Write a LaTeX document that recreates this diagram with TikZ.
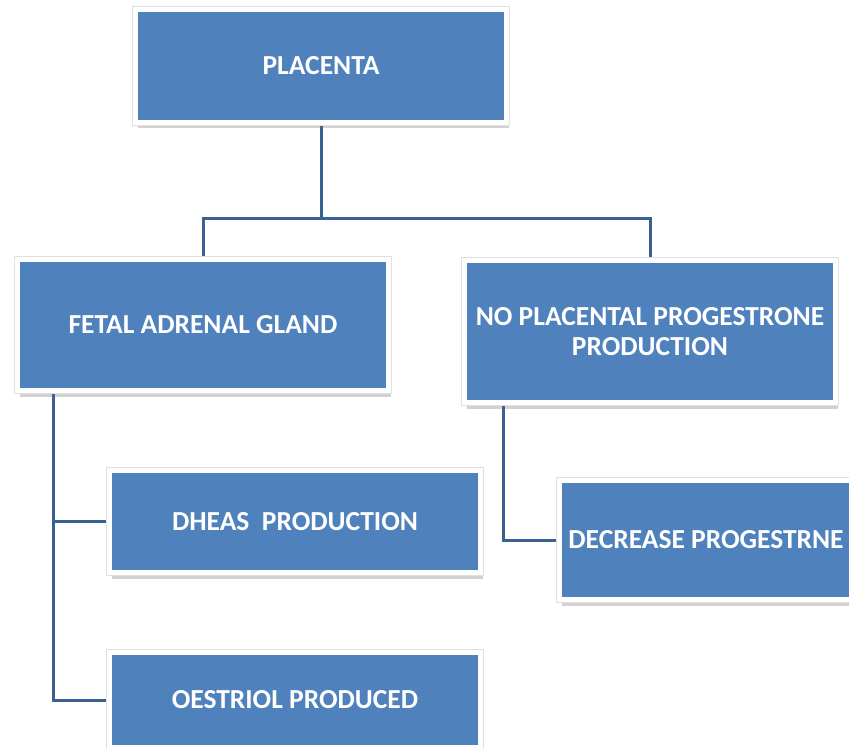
\documentclass[tikz,border=0pt]{standalone}
\usepackage{fontspec}
\setmainfont{Carlito}
\usetikzlibrary{shadows,backgrounds}
\definecolor{boxblue}{HTML}{4F81BD}
\definecolor{linkblue}{HTML}{3A6194}
\tikzset{
  card/.style={rectangle, fill=boxblue, draw=white, line width=5pt,
    inner sep=0pt, align=center, text=white,
    font=\fontsize{27.5}{30}\selectfont\bfseries,
    drop shadow={shadow xshift=2pt, shadow yshift=-6pt, opacity=0.3, fill=black!60},
    preaction={draw=black!12, line width=7pt}},
  link/.style={draw=linkblue, line width=3pt}
}
\begin{document}
\begin{tikzpicture}[x=1pt, y=-1pt]
\useasboundingbox (0,0) rectangle (849,749);
\node[card, minimum width=371pt, minimum height=113pt] (placenta) at (321,66) {PLACENTA};
\node[card, minimum width=371pt, minimum height=131pt] (fetal) at (203,325) {FETAL ADRENAL GLAND};
\node[card, minimum width=371pt, minimum height=142pt] (noplac) at (650,331.5) {NO PLACENTAL PROGESTRONE\\PRODUCTION};
\node[card, minimum width=293pt, minimum height=119pt] (decrease) at (706,540) {DECREASE PROGESTRNE};
\node[card, minimum width=371pt, minimum height=102pt] (dheas) at (295,521.5) {DHEAS\ \ PRODUCTION};
\node[card, minimum width=371pt, minimum height=95pt] (oestriol) at (295,700) {OESTRIOL PRODUCED};
\begin{scope}[on background layer]
\coordinate (j1) at (321,218);
\coordinate (fb) at (53,388);
\coordinate (nb) at (503,400);
\draw[link] (placenta) -- (j1);
\draw[link] (fetal.north) |- (j1) -| (noplac.north);
\draw[link] (fb) |- (dheas.west);
\draw[link] (fb) |- (oestriol.west);
\draw[link] (nb) |- (decrease.west);
\end{scope}
\end{tikzpicture}
\end{document}
